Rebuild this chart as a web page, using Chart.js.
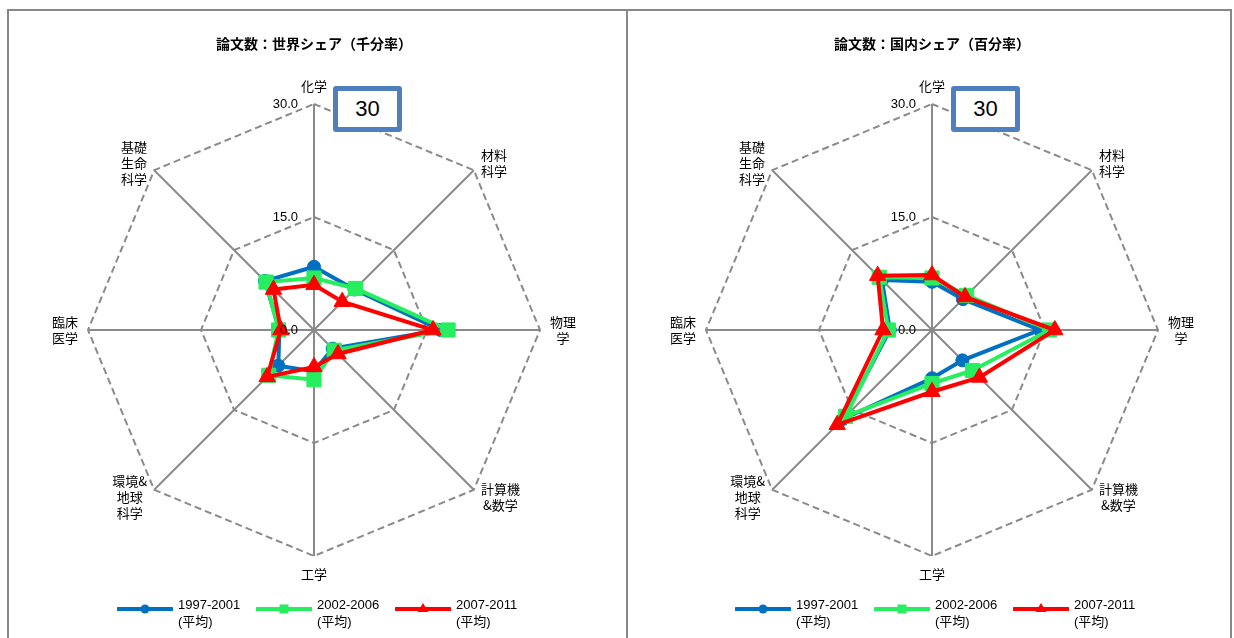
<!DOCTYPE html>
<html>
<head>
<meta charset="utf-8">
<script src="https://cdn.jsdelivr.net/npm/chart.js@4.4.0/dist/chart.umd.min.js"></script>
<style>
html,body{margin:0;padding:0;background:#fff;}
body{width:1234px;height:638px;overflow:hidden;position:relative;font-family:"Noto Sans CJK JP",sans-serif;color:#000;}
.panel{position:absolute;box-sizing:border-box;border:2px solid #888;border-bottom:none;top:9px;height:640px;}
canvas{position:absolute;top:0;}
.title{position:absolute;top:33px;width:400px;text-align:center;font-weight:bold;font-size:14px;line-height:20px;white-space:nowrap;}
.box{position:absolute;top:86px;width:69px;height:46px;box-sizing:border-box;border:5px solid #4f7fbf;border-radius:3px;background:#fff;
  font-family:"Liberation Sans Narrow","Liberation Sans",sans-serif;font-size:22px;line-height:36px;text-align:center;}
.leg{position:absolute;top:596px;height:40px;}
.leg svg{position:absolute;left:0;top:3px;}
.leg .txt{position:absolute;top:0;font-family:"Liberation Sans","Noto Sans CJK JP",sans-serif;font-size:13px;line-height:17px;white-space:nowrap;}
</style>
</head>
<body>
<div class="panel" style="left:7px;width:621px;"></div>
<div class="panel" style="left:626px;width:606px;border-left:none;"></div>
<canvas id="c1" width="620" height="638" style="left:0px;"></canvas>
<canvas id="c2" width="616" height="638" style="left:618px;"></canvas>
<div class="title" style="left:114px;">論文数：世界シェア（千分率）</div>
<div class="title" style="left:732px;">論文数：国内シェア（百分率）</div>
<div class="box" style="left:333px;">30</div>
<div class="box" style="left:951px;">30</div>
<div id="legends"></div>
<script>
// ---- data ----
const categories = [['化学'],['材料','科学'],['物理','学'],['計算機','&数学'],['工学'],['環境&','地球','科学'],['臨床','医学'],['基礎','生命','科学']];
const seriesNames = [['1997-2001','(平均)'],['2002-2006','(平均)'],['2007-2011','(平均)']];
const worldShare1997 = [8.4, 7.6, 16.8, 3.5, 5.5, 6.7, 4.6, 9.2];
const worldShare2002 = [6.9, 7.8, 17.8, 3.8, 6.6, 8.5, 4.7, 9.0];
const worldShare2007 = [6.0, 5.3, 15.8, 4.5, 4.9, 8.8, 4.4, 7.6];
const domesticShare1997 = [6.4, 5.8, 14.3, 5.7, 6.4, 16.7, 5.6, 9.4];
const domesticShare2002 = [6.9, 6.5, 15.6, 7.6, 7.1, 16.2, 5.8, 9.9];
const domesticShare2007 = [7.3, 6.2, 16.3, 8.9, 8.2, 17.8, 6.5, 10.2];
const axisMin = 0, axisMax = 30, axisStep = 15;

// ---- styles ----
const colors = ['#0070c0', '#26ee5f', '#ff0000'];
const shapes = ['circle', 'rect', 'triangle'];
const radii = [6.5, 10, 9.5];

const labelPlugin = {
  id: 'excelLabels',
  afterDatasetsDraw(chart) {
    const s = chart.scales.r, ctx = chart.ctx;
    ctx.save();
    ctx.font = '13px "Liberation Sans", sans-serif';
    ctx.fillStyle = '#000';
    ctx.textAlign = 'right';
    ctx.textBaseline = 'middle';
    s.ticks.forEach(t => {
      const d = s.getDistanceFromCenterForValue(t.value);
      ctx.fillText(Number(t.value).toFixed(1), s.xCenter - 16, s.yCenter - d);
    });
    ctx.font = '13px "Noto Sans CJK JP", sans-serif';
    ctx.textAlign = 'center';
    const lh = 16;
    chart.data.labels.forEach((lines, i) => {
      const p = s.getPointPosition(i, s.drawingArea + 10);
      const dx = p.x - s.xCenter, dy = p.y - s.yCenter;
      const w = Math.max(...lines.map(l => ctx.measureText(l).width));
      const h = lines.length * lh;
      let cx = p.x;
      if (dx > 1) cx = p.x + w / 2; else if (dx < -1) cx = p.x - w / 2;
      let top;
      if (Math.abs(dx) <= 1) top = dy < 0 ? p.y - h : p.y; else top = p.y - h / 2;
      lines.forEach((l, k) => ctx.fillText(l, cx, top + lh * k + lh / 2));
    });
    ctx.restore();
  }
};

function makeChart(id, width, seriesData) {
  const cx = 314, cy = 330, R = 226;
  new Chart(document.getElementById(id), {
    type: 'radar',
    data: {
      labels: categories,
      datasets: seriesData.map((d, i) => ({
        label: seriesNames[i].join(''),
        data: d,
        borderColor: colors[i],
        backgroundColor: colors[i],
        pointBackgroundColor: colors[i],
        pointBorderColor: colors[i],
        pointStyle: shapes[i],
        pointRadius: radii[i],
        pointBorderWidth: 1,
        borderWidth: 4,
        fill: false,
        tension: 0,
        order: 2 - i
      }))
    },
    options: {
      responsive: false,
      maintainAspectRatio: false,
      animation: false,
      devicePixelRatio: 1,
      layout: { padding: { left: cx - R, right: width - cx - R, top: cy - R, bottom: 638 - cy - R } },
      plugins: { legend: { display: false }, title: { display: false }, tooltip: { enabled: false } },
      scales: {
        r: {
          min: axisMin, max: axisMax,
          ticks: { display: false, stepSize: axisStep },
          pointLabels: { display: false },
          angleLines: { display: true, color: '#8a8a8a', lineWidth: 2 },
          grid: { color: '#8a8a8a', lineWidth: 2, borderDash: [7, 4] },
          border: { dash: [7, 4] }
        }
      }
    },
    plugins: [labelPlugin]
  });
}

makeChart('c1', 620, [worldShare1997, worldShare2002, worldShare2007]);
makeChart('c2', 616, [domesticShare1997, domesticShare2002, domesticShare2007]);

// ---- HTML legends ----
function markerSvg(i) {
  const c = colors[i];
  let m = '';
  if (shapes[i] === 'circle') m = `<circle cx="28" cy="10" r="4.5" fill="${c}"/>`;
  else if (shapes[i] === 'rect') m = `<rect x="23.5" y="5.5" width="9" height="9" fill="${c}"/>`;
  else m = `<polygon points="28,4 33.5,13 22.5,13" fill="${c}"/>`;
  return `<svg width="56" height="20"><line x1="1" y1="10" x2="55" y2="10" stroke="${c}" stroke-width="4" stroke-linecap="round"/>${m}</svg>`;
}
const legendX = [117, 256, 395];
const legends = document.getElementById('legends');
[0, 618].forEach(off => {
  seriesNames.forEach((n, i) => {
    const d = document.createElement('div');
    d.className = 'leg';
    d.style.left = (legendX[i] + off) + 'px';
    d.innerHTML = markerSvg(i) + `<div class="txt" style="left:61px;">${n[0]}<br>${n[1]}</div>`;
    legends.appendChild(d);
  });
});
</script>
</body>
</html>
